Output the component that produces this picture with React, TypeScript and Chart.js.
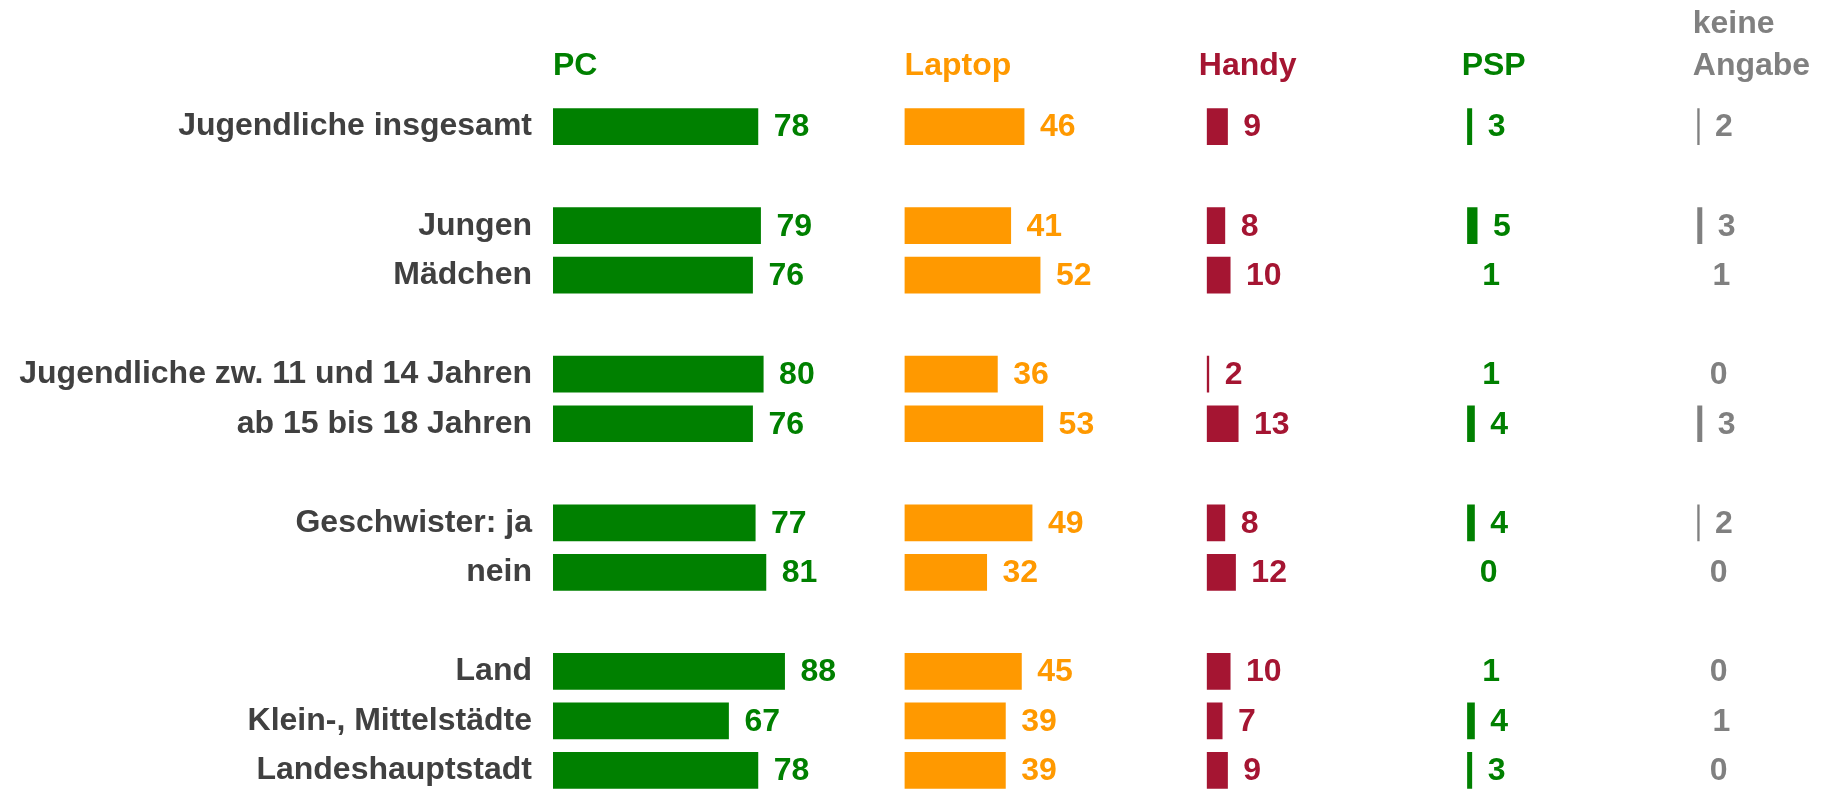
import React, { useEffect, useRef } from "react";
import { Chart, registerables } from "chart.js";

Chart.register(...registerables);

// ---- data ----
const categories = [
  "Jugendliche insgesamt",
  "",
  "Jungen",
  "Mädchen",
  "",
  "Jugendliche zw. 11 und 14 Jahren",
  "ab 15 bis 18 Jahren",
  "",
  "Geschwister: ja",
  "nein",
  "",
  "Land",
  "Klein-, Mittelstädte",
  "Landeshauptstadt",
];

const seriesNames: string[][] = [["PC"], ["Laptop"], ["Handy"], ["PSP"], ["keine", "Angabe"]];

const pcValues = [78, null, 79, 76, null, 80, 76, null, 77, 81, null, 88, 67, 78];
const laptopValues = [46, null, 41, 52, null, 36, 53, null, 49, 32, null, 45, 39, 39];
const handyValues = [9, null, 8, 10, null, 2, 13, null, 8, 12, null, 10, 7, 9];
const pspValues = [3, null, 5, 1, null, 1, 4, null, 4, 0, null, 1, 4, 3];
const keineAngabeValues = [2, null, 3, 1, null, 0, 3, null, 2, 0, null, 0, 1, 0];

// ---- styles / layout ----
const seriesColors = ["#008000", "#FF9900", "#A51532", "#008000", "#808080"];
const COLUMN_START = [0, 131.7, 244.9, 342.4, 428.6];
const X_MAX = 478.5;
const HEADER_DX = [1.5, 1.5, -6.5, -4, -3];
const FONT = "'Liberation Sans', Arial, Helvetica, sans-serif";

export default function App() {
  const ref = useRef<HTMLCanvasElement>(null);

  useEffect(() => {
    if (!ref.current) return;
    const series = [pcValues, laptopValues, handyValues, pspValues, keineAngabeValues];

    const datasets = series.map((vals, k) => ({
      label: seriesNames[k].join(" "),
      data: vals.map((v) => (v === null ? null : [COLUMN_START[k], COLUMN_START[k] + v])),
      backgroundColor: seriesColors[k],
      borderColor: "#ffffff",
      borderWidth: 1.5,
      borderSkipped: false,
      grouped: false,
      barPercentage: 0.802,
      categoryPercentage: 1,
    }));

    const labelPlugin = {
      id: "valueAndHeaderLabels",
      afterDatasetsDraw(chart: any) {
        const ctx = chart.ctx;
        ctx.save();
        ctx.font = `bold 32px ${FONT}`;
        ctx.textAlign = "left";
        ctx.textBaseline = "middle";
        chart.data.datasets.forEach((_ds: any, k: number) => {
          const meta = chart.getDatasetMeta(k);
          meta.data.forEach((el: any, i: number) => {
            const v = series[k][i];
            if (v === null || v === undefined) return;
            ctx.fillStyle = seriesColors[k];
            ctx.fillText(String(v), el.x + 14, el.y + 1);
          });
        });
        const xs = chart.scales.x;
        ctx.textBaseline = "alphabetic";
        seriesNames.forEach((lines, k) => {
          const x = xs.getPixelForValue(COLUMN_START[k]) + HEADER_DX[k];
          ctx.fillStyle = seriesColors[k];
          lines.forEach((line, j) => {
            ctx.fillText(line, x, 75 - (lines.length - 1 - j) * 42);
          });
        });
        ctx.restore();
      },
    };

    const chart = new Chart(ref.current, {
      type: "bar",
      data: { labels: categories, datasets: datasets as any },
      plugins: [labelPlugin],
      options: {
        indexAxis: "y",
        responsive: false,
        animation: false,
        devicePixelRatio: 1,
        layout: { padding: { top: 101.9, bottom: 4.9, left: 0, right: 0 } },
        plugins: {
          legend: { display: false },
          tooltip: { enabled: false },
          title: { display: false },
        },
        scales: {
          x: {
            type: "linear",
            min: 0,
            max: X_MAX,
            display: false,
          },
          y: {
            type: "category",
            offset: true,
            grid: { display: false, drawTicks: false },
            border: { display: false },
            ticks: {
              autoSkip: false,
              padding: 19.5,
              color: "#404040",
              font: { family: FONT, size: 32, weight: "bold" },
            },
            afterFit: (scale: any) => {
              scale.width = 551.5;
              scale.paddingTop = 0;
              scale.paddingBottom = 0;
            },
          },
        },
      } as any,
    });

    return () => chart.destroy();
  }, []);

  return (
    <div style={{ position: "fixed", left: 0, top: 0, width: 1829, height: 800, background: "#ffffff" }}>
      <canvas ref={ref} width={1829} height={800} style={{ display: "block" }} />
    </div>
  );
}
